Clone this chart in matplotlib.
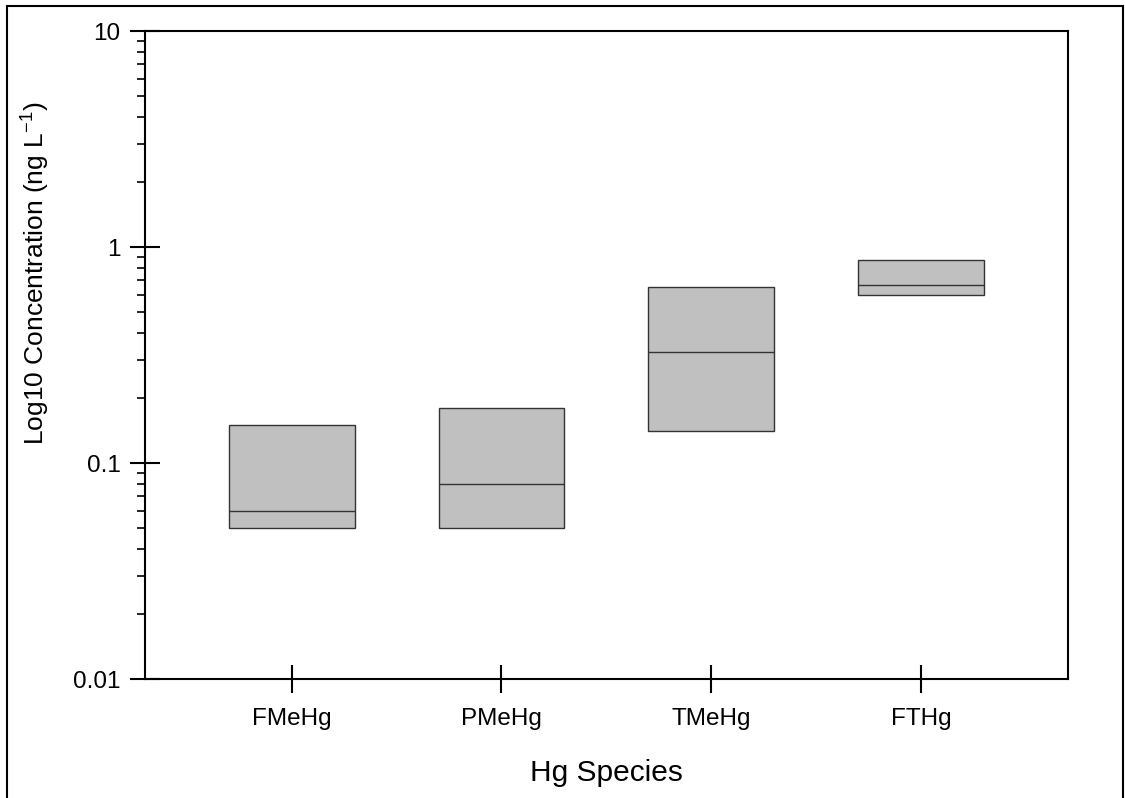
import matplotlib
matplotlib.use("Agg")
import matplotlib.pyplot as plt
from matplotlib.patches import Rectangle
from matplotlib.ticker import LogLocator, FixedLocator, FixedFormatter, NullFormatter

plt.rcParams['font.family'] = ['Liberation Sans', 'DejaVu Sans']

species = ["FMeHg", "PMeHg", "TMeHg", "FTHg"]
box_low = [0.050, 0.050, 0.140, 0.597]
box_median = [0.060, 0.080, 0.328, 0.664]
box_high = [0.150, 0.180, 0.656, 0.867]
y_ticks = [0.01, 0.1, 1, 10]
y_tick_labels = ["0.01", "0.1", "1", "10"]

fig = plt.figure(figsize=(11.25, 7.98), dpi=100)
ax = fig.add_axes([145/1125, 1 - 679/798, (1067.7 - 145)/1125, (679 - 31)/798])

positions = list(range(1, len(species) + 1))
width = 0.6
heights = [h - l for h, l in zip(box_high, box_low)]
ax.bar(positions, heights, bottom=box_low, width=width, color="#c0c0c0",
       edgecolor="#333333", linewidth=1.0, zorder=2)
ax.hlines(box_median, [p - width/2 for p in positions], [p + width/2 for p in positions],
          colors="#333333", linewidth=1.0, zorder=3)

ax.set_yscale("log")
ax.set_ylim(0.01, 10)
ax.set_xlim(0.3, 4.7)
ax.yaxis.set_major_locator(FixedLocator(y_ticks))
ax.yaxis.set_major_formatter(FixedFormatter(y_tick_labels))
ax.yaxis.set_minor_locator(LogLocator(base=10, subs=range(2, 10)))
ax.yaxis.set_minor_formatter(NullFormatter())
ax.set_xticks(positions)
ax.set_xticklabels(species)

for s in ax.spines.values():
    s.set_linewidth(1.5)
ax.tick_params(axis="y", which="major", direction="inout", length=21, width=1.5,
               labelsize=17.5, pad=7, right=False)
ax.tick_params(axis="y", which="minor", direction="out", length=6, width=1.2)
ax.tick_params(axis="x", which="major", direction="inout", length=20, width=1.5,
               labelsize=17.5, pad=11, top=False)

ax.set_ylabel(r"Log10 Concentration (ng L$^{\mathregular{-1}}$)", fontsize=19,
              va="center", ha="center")
ax.yaxis.set_label_coords((35 - 145)/922.7, 0.627)
ax.set_xlabel("Hg Species", fontsize=21.5)
ax.xaxis.set_label_coords(0.5, -0.123)

fig.patches.append(Rectangle((7/1125, -0.02), (1123 - 7)/1125, 1.02 - 6/798,
                             transform=fig.transFigure, fill=False,
                             edgecolor="black", linewidth=1.5))

fig.savefig("out.png", dpi=100)
